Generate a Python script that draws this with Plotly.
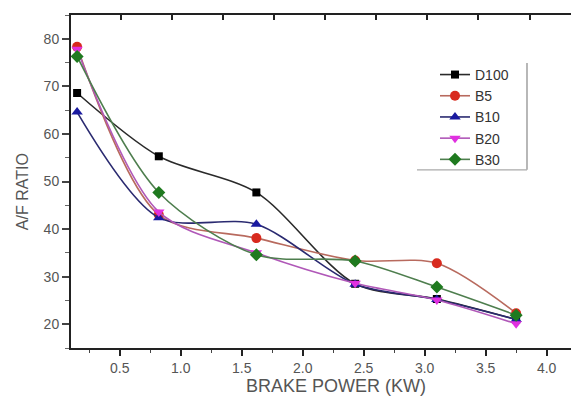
import plotly.graph_objects as go

# ---- data ----
brake_power = [0.15, 0.82, 1.62, 2.43, 3.10, 3.75]
d100 = [68.6, 55.3, 47.7, 28.5, 25.3, 21.0]
b5 = [78.3, 43.0, 38.1, 33.4, 32.8, 22.3]
b10 = [64.6, 42.4, 41.0, 28.4, 25.2, 21.0]
b20 = [77.8, 43.6, 35.0, 28.6, 25.1, 20.1]
b30 = [76.3, 47.7, 34.6, 33.3, 27.8, 21.9]

series_names = ["D100", "B5", "B10", "B20", "B30"]
series_values = [d100, b5, b10, b20, b30]
line_colors = ["#2a2a2a", "#b86a5e", "#2a2a70", "#b058b8", "#4e7e4e"]
marker_colors = ["#000000", "#d82a1e", "#1a1aa0", "#e030e0", "#1f7a1f"]
marker_symbols = ["square", "circle", "triangle-up", "triangle-down", "diamond"]
marker_sizes = [8, 10, 10, 10, 10]

FONT = "Liberation Sans, Arial, sans-serif"

fig = go.Figure()
for name, vals, lc, mc, sym, ms in zip(series_names, series_values, line_colors,
                                       marker_colors, marker_symbols, marker_sizes):
    fig.add_trace(go.Scatter(
        x=brake_power, y=vals, name=name, mode="lines+markers",
        line=dict(color=lc, width=1.6, shape="spline", smoothing=0.85),
        marker=dict(symbol=sym, size=ms, color=mc, line=dict(width=0)),
    ))

# dummy trace to activate the top tick axis
fig.add_trace(go.Scatter(x=[brake_power[0]], y=[None], xaxis="x2", showlegend=False,
                         hoverinfo="skip", mode="markers"))

x_range = [0.1, 4.2]
fig.update_layout(
    width=571, height=398,
    margin=dict(l=71, r=0, t=15, b=50),
    paper_bgcolor="white", plot_bgcolor="white",
    font=dict(family=FONT, color="#444444"),
    showlegend=True,
    legend=dict(x=0.728, y=0.868, xanchor="left", yanchor="top",
                bgcolor="rgba(0,0,0,0)", borderwidth=0,
                font=dict(size=14, color="#333333", family=FONT),
                tracegroupgap=0),
    xaxis=dict(range=x_range, dtick=0.5, tick0=0, showgrid=False, zeroline=False,
               showline=True, linecolor="#222222", linewidth=2,
               ticks="outside", ticklen=6, tickwidth=1.5, tickcolor="#222222",
               tickfont=dict(size=14, color="#555555", family=FONT),
               tickformat=".1f",
               minor=dict(dtick=0.25, tick0=0, ticks="outside", ticklen=3,
                          tickwidth=1.2, tickcolor="#444444", showgrid=False)),
    xaxis2=dict(range=x_range, overlaying="x", side="top", showgrid=False,
                zeroline=False, showline=True, linecolor="#222222", linewidth=2,
                ticks="inside", ticklen=5, tickwidth=1.5, tickcolor="#222222",
                tick0=0.508, dtick=0.419, showticklabels=False),
    yaxis=dict(range=[15, 85], dtick=10, tick0=0, showgrid=False, zeroline=False,
               showline=True, linecolor="#222222", linewidth=2,
               ticks="outside", ticklen=7, tickwidth=1.5, tickcolor="#444444",
               tickfont=dict(size=14, color="#555555", family=FONT),
               minor=dict(dtick=5, tick0=0, ticks="outside", ticklen=4,
                          tickwidth=1.2, tickcolor="#666666", showgrid=False)),
    annotations=[
        dict(text="A/F RATIO", xref="paper", yref="paper", x=-0.098, y=0.468,
             textangle=-90, showarrow=False, xanchor="center", yanchor="middle",
             font=dict(size=16, color="#555555", family=FONT)),
        dict(text="BRAKE POWER (KW)", xref="paper", yref="paper", x=0.53, y=-0.114,
             showarrow=False, xanchor="center", yanchor="middle",
             font=dict(size=18, color="#555555", family=FONT)),
    ],
    shapes=[
        dict(type="line", xref="paper", yref="paper", x0=0.912, x1=0.912,
             y0=0.535, y1=0.856, line=dict(color="#888888", width=1.2)),
        dict(type="line", xref="paper", yref="paper", x0=0.692, x1=0.912,
             y0=0.535, y1=0.535, line=dict(color="#aaaaaa", width=1.2)),
    ],
)

fig.write_html("out.html")
